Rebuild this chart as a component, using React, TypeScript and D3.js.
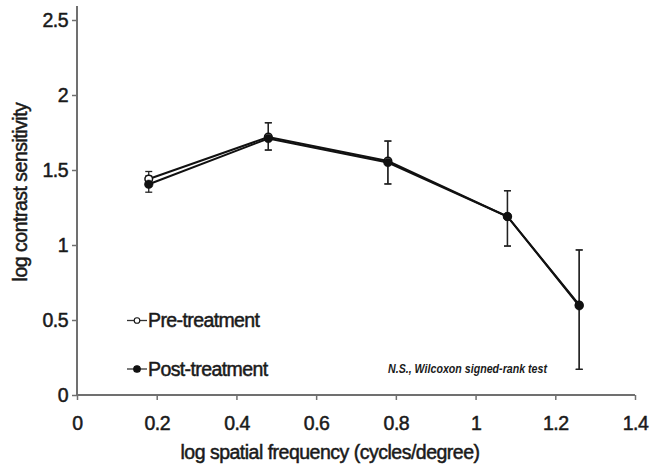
import * as d3 from "d3";
import { useEffect, useRef } from "react";

const freqs = [0.18, 0.48, 0.78, 1.08, 1.26];
const preMean = [1.44, 1.72, 1.56, 1.19, 0.6];
const preHi = [1.49, 1.815, 1.693, 1.362, 0.967];
const preLo = [1.39, 1.633, 1.407, 0.993, 0.171];
const postMean = [1.405, 1.71, 1.55, 1.19, 0.595];
const postHi = [1.46, 1.815, 1.693, 1.362, 0.967];
const postLo = [1.352, 1.633, 1.407, 0.993, 0.171];
const xTicks = [0, 0.2, 0.4, 0.6, 0.8, 1, 1.2, 1.4];
const yTicks = [0, 0.5, 1, 1.5, 2, 2.5];

const W = 658;
const H = 470;
const font = "Liberation Sans, Arial, sans-serif";

export default function App() {
  const ref = useRef<SVGSVGElement | null>(null);
  useEffect(() => {
    if (!ref.current) return;
    const svg = d3.select(ref.current);
    svg.selectAll("*").remove();

    const x = d3.scaleLinear().domain([0, 1.4]).range([77, 635]);
    const y = d3.scaleLinear().domain([0, 2.5]).range([395, 20]);
    const axisColor = "#707070";
    const textColor = "#1a1a1a";

    // axes
    const gx = svg.append("g").attr("transform", `translate(0,${y(0)})`)
      .call(d3.axisBottom(x).tickValues(xTicks).tickSize(5).tickFormat((d) => String(d)));
    const gy = svg.append("g").attr("transform", `translate(${x(0)},0)`)
      .call(d3.axisLeft(y).tickValues(yTicks).tickSize(5).tickFormat((d) => String(d)));
    gy.select(".domain").attr("d", `M0,${y(0)}V6`);
    gx.select(".domain").attr("d", `M${x(0)},0H${x(1.4)}`);
    [gx, gy].forEach((g) => {
      g.selectAll(".domain").attr("stroke", axisColor).attr("stroke-width", 2);
      g.selectAll(".tick line").attr("stroke", axisColor).attr("stroke-width", 1.5);
      g.selectAll("text").attr("fill", textColor).attr("font-size", 19.5)
        .attr("font-family", font).attr("letter-spacing", -0.5)
        .attr("stroke", textColor).attr("stroke-width", 0.5);
    });
    gx.selectAll("text").attr("y", 35).attr("dy", 0);
    gy.selectAll("text").attr("dx", "-1");

    const series = [
      { mean: preMean, hi: preHi, lo: preLo, open: true },
      { mean: postMean, hi: postHi, lo: postLo, open: false },
    ];
    const line = d3.line<number>().x((_, i) => x(freqs[i])).y((d) => y(d));

    series.forEach((s) => {
      const g = svg.append("g");
      freqs.forEach((f, i) => {
        g.append("line").attr("x1", x(f)).attr("x2", x(f))
          .attr("y1", y(s.hi[i])).attr("y2", y(s.lo[i]))
          .attr("stroke", "#222").attr("stroke-width", 1.3);
        [s.hi[i], s.lo[i]].forEach((v) => {
          g.append("line").attr("x1", x(f) - 3.5).attr("x2", x(f) + 3.5)
            .attr("y1", y(v)).attr("y2", y(v))
            .attr("stroke", "#222").attr("stroke-width", 1.3);
        });
      });
    });
    series.forEach((s) => {
      svg.append("path").datum(s.mean).attr("d", line)
        .attr("fill", "none").attr("stroke", "#111").attr("stroke-width", 2);
    });
    series.forEach((s) => {
      svg.append("g").selectAll("circle").data(s.mean).enter().append("circle")
        .attr("cx", (_, i) => x(freqs[i])).attr("cy", (d) => y(d))
        .attr("r", s.open ? 3.8 : 4.3)
        .attr("fill", s.open ? "#fff" : "#111")
        .attr("stroke", "#111").attr("stroke-width", s.open ? 1.5 : 0.5);
    });

    // legend
    const legend = [
      { label: "Pre-treatment", open: true, yy: 320.5 },
      { label: "Post-treatment", open: false, yy: 369 },
    ];
    legend.forEach((l) => {
      svg.append("line").attr("x1", 127).attr("x2", 147).attr("y1", l.yy).attr("y2", l.yy)
        .attr("stroke", "#333").attr("stroke-width", 1.3);
      svg.append("circle").attr("cx", 137).attr("cy", l.yy).attr("r", l.open ? 2.8 : 3.3)
        .attr("fill", l.open ? "#fff" : "#111").attr("stroke", "#111").attr("stroke-width", 1.1);
      svg.append("text").attr("x", 148).attr("y", l.yy + 6.5).text(l.label)
        .attr("font-family", font).attr("font-size", 19.5).attr("fill", textColor)
        .attr("stroke", textColor).attr("stroke-width", 0.5)
        .attr("letter-spacing", -0.6);
    });

    svg.append("text").attr("x", 388).attr("y", 373)
      .text("N.S., Wilcoxon signed-rank test")
      .attr("font-family", font).attr("font-size", 13.5).attr("font-style", "italic")
      .attr("font-weight", "bold").attr("fill", textColor)
      .attr("textLength", 159).attr("lengthAdjust", "spacingAndGlyphs");

    svg.append("text").attr("x", 330).attr("y", 459).attr("text-anchor", "middle")
      .text("log spatial frequency (cycles/degree)")
      .attr("font-family", font).attr("font-size", 19.5).attr("fill", textColor)
      .attr("stroke", textColor).attr("stroke-width", 0.5)
      .attr("letter-spacing", -0.5);
    svg.append("text").attr("transform", "translate(27,192) rotate(-90)")
      .attr("text-anchor", "middle").text("log contrast sensitivity")
      .attr("font-family", font).attr("font-size", 19.5).attr("fill", textColor)
      .attr("stroke", textColor).attr("stroke-width", 0.5)
      .attr("letter-spacing", -0.5);
  }, []);
  return (
    <svg ref={ref} width={W} height={H} viewBox={`0 0 ${W} ${H}`}
      style={{ position: "absolute", left: 0, top: 0, background: "#fff" }} />
  );
}
